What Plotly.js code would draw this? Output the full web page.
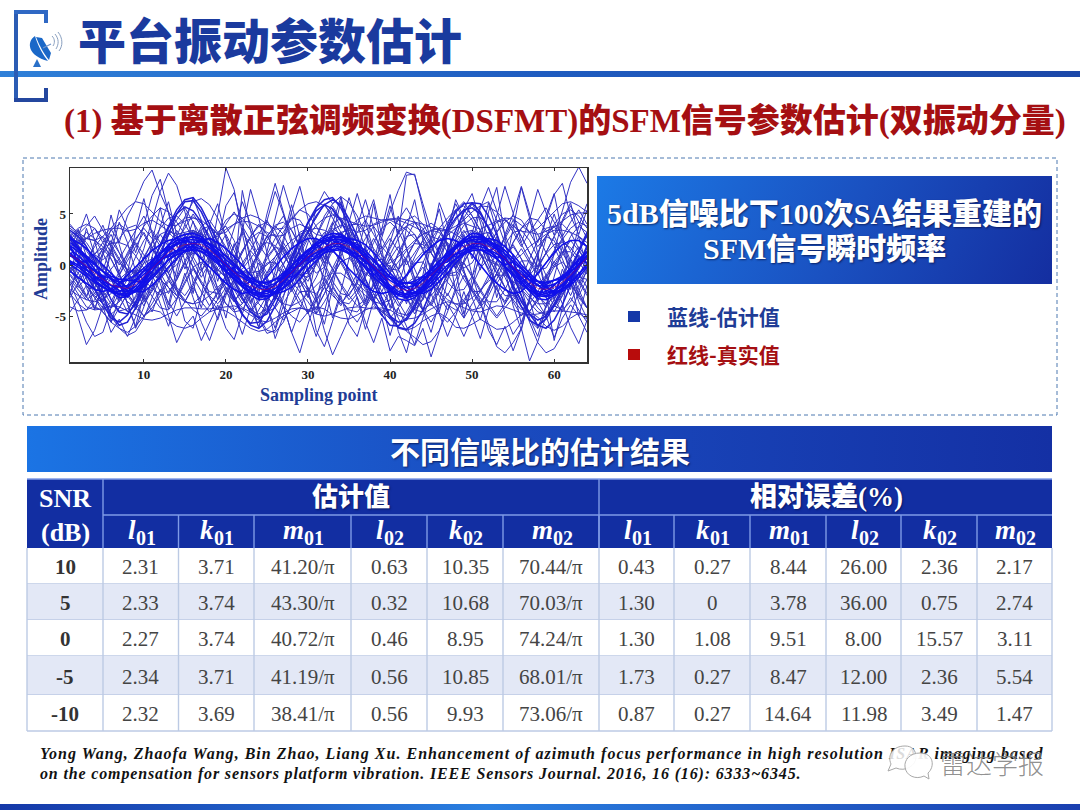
<!DOCTYPE html>
<html><head><meta charset="utf-8">
<script src="https://cdn.plot.ly/plotly-3.0.1.min.js"></script>
<style>
html,body{margin:0;padding:0;background:#fff;width:1080px;height:810px;overflow:hidden}
.g{position:absolute}
#chart{position:absolute;left:0;top:0;z-index:2}
#mark{position:absolute;left:0;top:0;z-index:3}
</style></head><body>
<div class="g" style="left:0;top:71px;width:1080px;height:6px;background:linear-gradient(90deg,#2f80d8,#1f5cc0 50%,#1c48a8)"></div>
<div class="g" style="left:597px;top:176px;width:455px;height:108px;background:linear-gradient(115deg,#1c7ae6,#1a50c0 55%,#142ea0)"></div>
<div class="g" style="left:27px;top:426px;width:1025px;height:46px;background:linear-gradient(90deg,#1b74e4,#1a4cc0 45%,#1430a4)"></div>
<div class="g" style="left:0;top:804px;width:1080px;height:6px;background:linear-gradient(90deg,#1538a8,#2a7fe0 45%,#1a3fb0)"></div>
<div id="chart"></div>
<svg id="mark" width="1080" height="810">
<path d="M905 746C893 746 887 755 891 764L888 771L896 768C905 772 916 766 916 757C916 750 912 746 905 746Z" fill="rgba(255,255,255,.85)" stroke="#a8a8a8" stroke-width="1"/>
<path d="M920 753C910 753 904 760 905 767C906 776 916 780 924 776L929 779L928 773C935 767 934 753 920 753Z" fill="rgba(255,255,255,.92)" stroke="#a8a8a8" stroke-width="1"/>
</svg>
<script>
const truth=[1.0,0.5,-0.1,-0.8,-1.4,-1.9,-2.2,-2.3,-1.9,-1.1,-0.3,0.5,1.2,1.7,2.0,2.1,2.0,1.5,0.8,0.0,-0.7,-1.4,-2.0,-2.4,-2.4,-2.1,-1.5,-0.7,0.1,0.8,1.4,1.8,2.1,2.1,1.8,1.3,0.6,-0.2,-1.0,-1.7,-2.3,-2.5,-2.3,-1.8,-1.0,-0.2,0.6,1.3,1.8,2.1,2.1,1.8,1.3,0.6,-0.2,-1.0,-1.7,-2.3,-2.4,-2.2,-1.7,-1.0,-0.1,0.7];
const c1=[1.6,0.9,0.2,-0.6,-1.3,-2.0,-2.5,-2.6,-2.1,-1.2,-0.2,0.7,1.5,2.0,2.4,2.5,2.3,1.7,0.9,0.0,-0.9,-1.7,-2.3,-2.7,-2.8,-2.3,-1.6,-0.7,0.2,1.0,1.7,2.2,2.5,2.5,2.1,1.5,0.7,-0.2,-1.2,-2.0,-2.6,-2.9,-2.7,-2.1,-1.2,-0.2,0.8,1.6,2.2,2.5,2.5,2.1,1.5,0.7,-0.3,-1.2,-2.0,-2.6,-2.8,-2.5,-1.9,-1.1,0.0,1.0];
const c2=[0.4,0.0,-0.5,-1.1,-1.6,-2.0,-2.1,-2.0,-1.6,-0.9,-0.2,0.4,1.0,1.4,1.7,1.8,1.6,1.2,0.6,-0.1,-0.7,-1.2,-1.7,-2.0,-2.1,-1.8,-1.3,-0.6,0.1,0.7,1.2,1.6,1.8,1.8,1.5,1.0,0.4,-0.3,-0.9,-1.5,-2.0,-2.2,-2.0,-1.5,-0.8,-0.1,0.5,1.1,1.5,1.8,1.8,1.5,1.1,0.5,-0.2,-0.9,-1.5,-2.0,-2.1,-1.9,-1.4,-0.7,0.1,0.6];
const c3=[2.2,1.6,0.9,0.1,-0.7,-1.4,-2.0,-2.5,-2.6,-2.1,-1.3,-0.4,0.5,1.2,1.8,2.2,2.3,2.1,1.6,0.9,0.1,-0.7,-1.5,-2.2,-2.6,-2.7,-2.3,-1.6,-0.7,0.2,0.9,1.6,2.1,2.4,2.3,2.0,1.4,0.6,-0.3,-1.2,-2.0,-2.5,-2.8,-2.6,-2.0,-1.2,-0.3,0.6,1.3,2.0,2.3,2.3,2.0,1.4,0.6,-0.3,-1.2,-2.0,-2.5,-2.7,-2.4,-1.8,-0.9,0.1];
const c4=[0.1,-0.5,-1.1,-1.7,-2.2,-2.6,-2.6,-2.2,-1.4,-0.5,0.3,1.1,1.7,2.1,2.3,2.2,1.7,1.0,0.2,-0.6,-1.4,-2.1,-2.6,-2.8,-2.5,-1.9,-1.0,-0.1,0.8,1.5,2.0,2.4,2.4,2.0,1.4,0.6,-0.3,-1.2,-1.9,-2.5,-2.9,-2.8,-2.3,-1.4,-0.5,0.4,1.2,1.8,2.3,2.4,2.1,1.5,0.7,-0.2,-1.1,-1.9,-2.5,-2.8,-2.6,-2.0,-1.2,-0.3,0.6,1.3];
const c5=[2.8,1.8,0.7,-0.4,-1.6,-2.6,-3.2,-3.1,-2.4,-1.4,-0.2,1.0,2.0,2.7,3.0,3.1,2.8,2.0,1.0,-0.1,-1.1,-2.1,-2.9,-3.4,-3.3,-2.7,-1.8,-0.7,0.5,1.4,2.2,2.8,3.1,3.0,2.5,1.7,0.7,-0.4,-1.5,-2.5,-3.3,-3.5,-3.2,-2.4,-1.4,-0.2,0.9,1.9,2.6,3.1,3.0,2.4,1.7,0.7,-0.5,-1.6,-2.6,-3.3,-3.4,-3.0,-2.2,-1.2,0.1,1.3];
const c6=[0.9,0.6,-0.2,-0.5,-1.1,-1.3,-1.7,-1.5,-1.5,-0.6,-0.3,0.6,0.8,1.4,1.4,1.7,1.3,1.2,0.4,0.2,-0.6,-0.9,-1.6,-1.6,-1.9,-1.4,-1.2,-0.3,-0.1,0.8,0.9,1.5,1.5,1.7,1.2,1.1,0.2,0.0,-0.9,-1.2,-1.9,-1.7,-1.9,-1.2,-1.0,0.1,0.3,1.1,1.2,1.7,1.5,1.4,0.8,0.6,-0.4,-0.6,-1.5,-1.6,-1.9,-1.5,-1.4,-0.5,-0.2,0.9];
const c7=[1.9,0.2,0.4,-1.4,-1.0,-2.6,-2.0,-3.1,-1.6,-1.7,0.2,0.1,1.9,1.3,2.7,1.9,2.6,1.1,1.3,-0.6,-0.2,-2.1,-1.6,-3.2,-2.2,-2.8,-0.9,-1.2,0.8,0.4,2.0,1.4,2.9,1.9,2.4,0.8,1.1,-1.0,-0.4,-2.4,-1.9,-3.3,-1.9,-2.5,-0.4,-0.8,1.3,0.8,2.5,1.7,2.8,1.3,1.9,0.0,0.3,-1.8,-1.0,-3.1,-2.0,-2.9,-1.0,-1.6,0.6,0.2];
const c8=[1.9,1.3,0.7,0.0,-0.6,-1.1,-1.4,-1.4,-1.0,-0.3,0.5,1.2,1.9,2.4,2.7,2.7,2.5,2.0,1.3,0.5,-0.1,-0.8,-1.3,-1.7,-1.7,-1.4,-0.8,-0.1,0.7,1.4,2.0,2.4,2.7,2.7,2.3,1.8,1.1,0.3,-0.4,-1.1,-1.6,-1.8,-1.6,-1.1,-0.4,0.4,1.2,1.9,2.4,2.7,2.7,2.3,1.8,1.1,0.3,-0.4,-1.1,-1.6,-1.7,-1.5,-1.1,-0.4,0.5,1.3];
const c9=[0.3,-0.2,-0.8,-1.5,-2.1,-2.6,-2.9,-3.0,-2.6,-1.8,-1.0,-0.2,0.5,1.0,1.3,1.5,1.3,0.8,0.1,-0.7,-1.4,-2.1,-2.7,-3.1,-3.1,-2.8,-2.2,-1.3,-0.6,0.2,0.7,1.2,1.4,1.5,1.1,0.6,-0.1,-0.9,-1.7,-2.4,-3.0,-3.2,-3.0,-2.5,-1.7,-0.9,0.0,0.6,1.1,1.4,1.5,1.1,0.6,-0.1,-0.9,-1.7,-2.4,-3.0,-3.1,-2.9,-2.4,-1.7,-0.8,0.0];
const k8=[1.2,0.4,-0.4,-1.2,-1.8,-2.4,-2.8,-2.8,-2.4,-1.6,-0.6,0.4,1.4,2.2,2.6,2.8,2.6,2.0,1.0,0.0,-1.0,-1.8,-2.6,-2.9,-3.0,-2.6,-1.8,-0.8,0.2,1.2,2.0,2.6,2.8,2.8,2.4,1.6,0.6,-0.4,-1.4,-2.2,-2.8,-3.1,-2.8,-2.2,-1.4,-0.4,0.6,1.6,2.4,2.8,2.8,2.4,1.6,0.6,-0.4,-1.4,-2.2,-2.8,-3.0,-2.6,-2.0,-1.2,-0.2,0.8];
const k9=[2.6,2.2,1.6,0.8,0.0,-0.8,-1.6,-2.2,-2.6,-2.6,-2.0,-1.2,-0.2,0.6,1.4,2.0,2.4,2.6,2.2,1.6,0.8,0.0,-1.0,-1.8,-2.4,-2.8,-2.6,-2.2,-1.4,-0.4,0.4,1.2,1.8,2.2,2.6,2.4,2.0,1.2,0.2,-0.8,-1.6,-2.2,-2.6,-2.8,-2.4,-1.6,-0.8,0.2,1.0,1.6,2.2,2.6,2.4,1.8,1.0,0.0,-0.8,-1.6,-2.2,-2.6,-2.6,-2.0,-1.2,-0.2];
const k10=[-0.6,-1.2,-1.8,-2.4,-2.6,-2.4,-1.8,-1.0,-0.2,0.6,1.4,2.0,2.4,2.6,2.2,1.4,0.6,-0.2,-1.0,-1.8,-2.4,-2.8,-2.6,-2.0,-1.2,-0.2,0.8,1.6,2.2,2.6,2.6,2.2,1.4,0.6,-0.4,-1.2,-2.0,-2.6,-2.8,-2.6,-1.8,-1.0,0.0,1.0,1.8,2.4,2.6,2.4,1.8,1.0,0.0,-1.0,-1.8,-2.4,-2.8,-2.6,-1.8,-0.8,0.2,1.2,2.0,2.4,2.4,1.8];
const b1=[2.5,1.5,0.3,-1.2,-3,-4.8,-5.9,-5.6,-4.2,-2.5,-0.8,1,3,5,6.2,6.3,5.2,3.5,1.5,-0.8,-3,-4.8,-5.9,-6.2,-5.5,-4,-2.2,-0.2,1.6,3.2,4.8,5.9,6.4,5.9,4.5,2.8,0.8,-1.2,-3.2,-5,-6.1,-6.3,-5.7,-4.4,-2.6,-0.6,1.4,3.4,5.2,6.1,6,4.8,3,1,-1.1,-3,-4.8,-5.9,-6.2,-5.4,-3.9,-2,0,1.9];
const b2=[3.0,1.9,0.6,-0.9,-2.5,-3.8,-4.5,-4.3,-3.2,-1.7,-0.2,1.4,2.9,3.9,4.6,4.7,4.1,2.9,1.4,-0.3,-2.0,-3.4,-4.4,-4.8,-4.3,-3.1,-1.7,-0.1,1.4,2.8,3.9,4.6,4.9,4.5,3.5,2.2,0.6,-1.0,-2.6,-3.9,-4.7,-4.9,-4.4,-3.4,-2.0,-0.4,1.1,2.6,3.9,4.6,4.7,3.8,2.4,0.9,-0.8,-2.4,-3.7,-4.6,-4.8,-4.1,-3.0,-1.5,0.1,1.6];
const b3=[1.0,0.2,-1.0,-2.4,-3.9,-5.2,-5.6,-4.9,-3.6,-1.7,0.2,1.9,3.6,5.0,5.7,5.3,4.2,2.6,0.6,-1.5,-3.4,-4.9,-5.7,-5.6,-4.5,-3.0,-1.1,0.8,2.5,4.1,5.3,5.9,5.5,4.3,2.7,0.8,-1.4,-3.4,-4.9,-5.9,-6.0,-5.2,-3.9,-2.0,0.0,1.9,3.7,5.2,6.0,6.1,5.2,3.6,1.7,-0.3,-2.3,-4.1,-5.4,-5.9,-5.3,-4.0,-2.5,-0.6,1.3,2.9];
const e1=[-0.6,-0.1,0.5,1.1,1.7,2.1,2.2,1.9,0.9,-0.3,-1.3,-0.6,0.5,1.4,2.0,2.0,1.4,0.5,-0.5,-1.2,-1.2,-0.4,0.7,1.7,2.2,1.9,0.9,-0.2,-1.0,-0.8,0.2,1.3,2.0,2.1,1.5,0.6,-0.4,-1.2,-1.4,-0.8,0.3,1.4,2.1,2.0,1.2,0.0,-0.9,-0.7,0.4,1.5,2.2,2.0,1.2,0.2,-0.8,-1.3,-1.0,0.0,1.1,2.0,2.2,1.7,0.7,-0.4];
const e2=[2.4,1.6,0.6,-0.4,-1.2,-1.6,-1.4,-0.7,-0.6,-1.4,-2.3,-2.9,-2.6,-1.5,0.2,1.6,2.3,2.0,0.9,-0.4,-1.5,-2.2,-2.1,-1.0,0.6,1.7,1.6,0.2,-1.4,-2.5,-2.8,-1.9,-0.3,1.3,2.2,2.2,1.2,-0.2,-1.5,-2.3,-2.1,-1.0,0.4,1.3,1.2,-0.2,-1.7,-2.5,-2.4,-1.1,0.6,1.9,2.2,1.5,0.2,-1.1,-2.0,-2.0,-1.0,0.3,1.3,1.3,0.3,-0.9];
const e3=[3.6,3.0,2.2,1.0,0.5,1.3,2.6,3.6,3.9,3.0,1.6,0.2,-0.6,0.0,1.2,2.6,3.5,3.8,3.1,1.8,0.4,-0.7,-0.2,1.2,2.8,3.9,4.2,3.4,1.8,0.2,-0.8,-0.2,1.4,2.9,3.9,4.0,3.1,1.6,0.5,-0.4,-0.5,0.6,2.2,3.5,4.1,3.5,2.1,0.6,-0.3,0.2,1.6,3.1,4.2,4.4,3.6,2.0,0.5,-0.5,-0.3,1.0,2.5,3.6,4.2,3.8];
const e4=[-0.9,-1.8,-3.1,-4.2,-4.4,-3.6,-2.0,-0.7,-0.5,-1.6,-3.1,-4.2,-4.4,-3.3,-1.6,-0.2,0.3,-0.6,-2.2,-3.8,-4.6,-4.4,-3.0,-1.2,0.2,0.3,-0.8,-2.4,-3.9,-4.6,-4.2,-2.8,-1.1,0.3,0.7,-0.4,-2.0,-3.6,-4.6,-4.4,-3.0,-1.2,0.2,0.3,-1.0,-2.6,-3.9,-4.4,-3.7,-2.0,-0.3,0.6,0.2,-1.2,-2.9,-4.1,-4.5,-3.5,-1.7,-0.2,0.3,-0.6,-2.4,-4.2];
const u1=[3.8,3.2,2.6,2.4,2.8,3.6,4.6,5.6,6.2,6.0,5.2,4.3,3.8,3.9,4.3,4.6,4.4,3.7,3.0,3.2,4.0,4.6,4.9,4.6,4.0,3.5,3.6,4.4,5.4,6.0,6.2,5.8,5.0,4.6,4.3,4.0,3.8,3.9,4.2,4.5,4.6,4.4,4.2,4.0,3.7,3.4,3.4,3.8,4.4,5.2,5.8,5.7,5.2,4.4,3.8,3.3,3.2,3.6,4.4,5.2,6.0,6.2,5.8,5.2];
const u2=[1.8,2.1,2.6,3.1,3.4,3.6,3.6,3.3,3.5,4.1,4.4,3.9,3.3,3.0,3.2,3.4,3.0,2.5,2.8,3.5,4.0,4.3,4.2,3.8,3.2,2.8,2.9,3.6,4.0,3.6,3.0,2.8,3.4,3.9,3.6,3.2,3.4,4.0,4.4,4.5,4.4,4.1,3.7,3.3,2.8,2.5,2.9,3.6,4.1,3.8,3.5,3.9,4.3,4.6,4.5,3.9,3.2,3.0,3.3,3.7,4.3,4.9,5.1,5.1];
const l1=[-4.1,-4.5,-4.4,-4.0,-4.6,-5.6,-6.2,-6.6,-6.0,-5.0,-4.4,-4.6,-5.4,-6.0,-6.2,-5.9,-5.2,-4.6,-4.3,-4.5,-5.0,-5.6,-6.2,-6.5,-6.3,-5.6,-5.0,-4.6,-4.2,-4.4,-4.1,-4.3,-4.9,-5.2,-5.3,-4.9,-4.4,-4.1,-4.4,-5.3,-6.2,-6.4,-6.1,-5.5,-5.0,-4.7,-5.2,-6.1,-6.2,-5.8,-5.3,-5.8,-6.3,-6.2,-5.6,-4.9,-4.6,-5.1,-6.0,-6.4,-6.0,-5.2,-4.7,-4.9];
const l2=[-1.6,-2.9,-4.1,-4.4,-4.3,-4.0,-4.1,-4.5,-4.9,-5.3,-5.4,-5.2,-4.8,-4.4,-4.2,-4.2,-4.3,-4.3,-4.2,-4.1,-4.0,-4.3,-4.9,-5.4,-5.6,-5.2,-4.7,-4.3,-4.2,-4.4,-4.8,-5.0,-4.8,-4.5,-4.2,-4.1,-4.2,-4.3,-4.2,-4.4,-4.9,-5.3,-5.2,-4.8,-4.3,-3.9,-3.6,-3.8,-4.2,-4.5,-4.6,-4.3,-4.0,-4.1,-4.4,-4.7,-4.9,-4.8,-4.6,-4.5,-4.5,-4.6,-4.7,-5.3];
const n1=[0.5,-2,-3.2,-1,1.2,3.5,2.2,4.8,6.3,8.2,9.3,7.0,5.2,2.1,-0.4,1.6,3.2,0.5,4.9,9.5,7.4,3.1,-0.8,1.0,4.3,7.2,5.0,2.0,-1.4,-3.2,0.6,2.8,5.5,3.6,6.6,4.1,1.5,-0.6,2.7,5.2,7.3,9.1,8.8,6.0,3.4,1.1,3.9,6.0,4.3,1.9,-0.5,2.4,4.8,7.7,5.1,2.2,4.4,7.4,5.2,2.9,5.3,8.1,9.6,8.0];
const n2=[-2.5,-5.2,-7.8,-6.4,-4.0,-6.6,-5.3,-7.0,-5.1,-3.0,-4.6,-2.4,-4.9,-7.6,-6.0,-5.0,-7.4,-5.6,-3.9,-6.2,-7.3,-4.8,-2.1,-5.3,-6.7,-6.4,-4.0,-6.6,-8.6,-5.8,-3.4,-6.4,-8.8,-7.0,-5.2,-3.1,-5.6,-7.6,-5.2,-8.4,-7.0,-7.4,-7.9,-6.2,-9.0,-6.5,-3.8,-5.2,-7.0,-5.1,-3.7,-5.8,-8.0,-8.6,-7.6,-6.2,-9.4,-7.5,-5.0,-7.1,-5.2,-3.9,-5.0,-6.6];
const n3=[1.4,3.5,0.8,-2.4,1.0,4.9,2.0,-0.8,3.4,6.5,3.1,-1.2,-3.9,-0.4,2.6,-1.8,-4.2,-1.1,2.3,5.8,7.1,4.0,0.4,-2.9,1.3,4.5,7.8,5.1,0.9,-2.6,-4.8,-1.4,2.8,6.2,3.0,-0.6,-3.6,0.2,3.7,6.9,2.5,-1.6,-4.4,-1.0,2.9,5.5,1.8,-2.6,-5.2,-1.2,2.6,6.1,3.3,-0.4,-4.0,-6.4,-3.1,0.7,4.8,7.0,3.0,-1.5,-5.0,-2.0];
const n4=[-3.0,0.2,3.6,1.0,-2.6,-5.6,-3.2,-0.4,-4.4,-1.6,2.3,5.6,1.9,-2.3,-5.5,-6.2,-3.0,0.8,-2.5,-5.2,-1.2,7.3,3.4,-0.5,-3.8,-7.2,-5.0,-1.2,3.0,-0.4,-3.4,-0.3,4.1,6.6,2.0,-1.9,1.4,6.0,1.6,-2.8,-6.5,-8.6,-5.3,-1.9,2.2,6.1,4.0,-0.6,-4.8,-2.2,1.6,5.2,7.6,2.9,-2.0,-5.8,-3.4,0.9,-2.8,-7.4,-4.2,0.6,3.8,6.0];
const n5=[3.0,2.0,0.4,-1.5,-3.4,-5.0,-6.2,-6.9,-6.5,-5.2,-3.2,-1.1,0.8,2.8,4.7,6.2,6.5,5.9,4.6,2.8,0.8,-1.2,-3.2,-5.1,-6.4,-6.6,-5.6,-3.8,-1.7,0.6,2.8,4.8,6.0,6.7,6.1,4.8,3.0,1.0,-1.1,-3.3,-5.2,-6.5,-7.1,-7.8,-7.5,-6.4,-4.6,-2.2,0.4,3.2,5.8,6.2,4.4,2.1,-0.4,-3.0,-5.6,-7.6,-8.6,-8.2,-6.8,-4.8,-2.6,-0.4];
const n6=[-0.8,1.9,-1.2,-4.3,-2.1,1.3,4.2,2.2,-0.6,-3.4,0.8,3.8,6.2,3.0,0.4,-2.8,1.4,4.0,6.0,2.6,-0.2,3.3,7.4,4.6,1.2,-1.6,2.2,5.2,7.7,4.6,1.3,-1.9,-5.2,-2.6,0.6,3.8,6.4,3.6,0.8,-3.3,-0.6,3.6,6.4,2.4,-0.8,-4.6,-1.6,2.4,5.5,7.0,4.2,0.9,-3.2,-0.4,3.6,7.6,4.6,1.0,-2.4,1.2,4.4,6.1,2.7,-0.2];
const n7=[2.9,0.6,-2.2,-4.4,-1.8,1.6,-0.9,-3.8,-6.0,-2.9,0.4,-1.8,-4.3,-1.1,2.0,4.3,1.6,-1.0,-3.4,-0.8,2.1,-0.9,-3.6,-6.1,-3.2,-0.6,2.6,5.9,2.8,-0.7,-3.2,-5.8,-2.2,1.6,-1.0,-3.2,-6.3,-3.4,-0.7,2.2,4.8,1.6,-1.4,-4.4,-6.6,-3.6,-0.4,2.2,-0.6,-3.2,-5.4,-2.6,0.4,3.0,0.8,-2.2,-5.2,-7.0,-4.0,-1.0,1.8,-1.0,-3.6,-5.2];
const n8=[0.8,3.0,5.0,2.4,-0.6,2.0,5.4,3.6,1.2,3.9,6.8,8.4,5.0,1.8,4.0,6.6,4.4,1.2,-1.6,1.0,3.6,6.2,4.0,1.4,5.0,8.0,5.2,2.4,-0.2,2.2,5.6,7.2,6.0,6.7,3.8,1.0,4.2,6.4,2.9,5.8,3.0,8.8,8.9,5.6,2.2,-0.4,3.2,6.4,4.6,2.0,5.6,7.6,5.2,3.0,5.0,7.7,5.0,2.2,4.4,6.9,8.0,4.8,3.0,5.4];
const n9=[-1.8,-3.6,-5.6,-7.0,-6.6,-4.2,-1.8,-3.8,-6.2,-4.1,-1.6,-3.8,-6.0,-3.4,-0.8,-3.2,-5.6,-7.4,-5.1,-2.4,-4.4,-6.8,-4.2,-6.1,-3.8,-1.6,-4.0,-6.6,-4.4,-2.2,-6.4,-8.0,-5.5,-3.0,-5.8,-7.0,-4.3,-1.6,-3.8,-6.9,-4.2,-6.0,-7.8,-5.2,-2.8,-4.8,-7.0,-5.0,-2.6,-5.0,-7.2,-4.4,-2.0,-4.8,-6.8,-5.6,-3.4,-6.2,-4.0,-1.8,-3.8,-6.1,-7.7,-5.4];
const n10=[-0.4,-1.8,-0.2,2.2,3.9,1.8,-0.8,-2.8,-0.6,1.6,4.4,7.2,9.0,7.8,5.2,2.4,-0.4,-3.0,-5.4,-3.0,0.4,3.6,1.0,-1.6,-4.0,-6.2,-3.2,0.2,-2.2,-4.8,-7.0,-4.6,-1.4,1.4,4.2,7.0,4.2,1.4,-1.6,-4.2,-2.0,0.6,-1.8,-4.6,-2.2,0.6,3.0,5.4,2.2,-1.0,-3.6,-6.4,-7.8,-6.0,-8.4,-6.2,-3.4,-0.4,2.6,5.0,2.6,-0.2,-3.0,-1.4];
const m1=[2.6,1.2,-0.4,-1.8,-3.0,-2.4,-1.0,0.8,2.2,1.0,-1.0,-2.6,-1.4,0.6,2.6,3.4,2.8,1.0,-0.8,-2.6,-3.6,-2.4,-0.6,1.4,2.8,3.0,1.4,-0.6,-2.2,-1.0,1.0,2.8,3.6,3.0,1.6,0.0,-1.8,-3.2,-2.6,-0.8,1.2,2.8,3.0,1.6,-0.4,-2.4,-1.4,0.6,2.4,3.4,3.0,1.4,-0.4,-2.2,-3.4,-2.6,-0.8,1.2,2.8,2.4,0.6,-1.4,-0.4,1.8];
const m2=[-1.4,-2.4,-3.4,-2.8,-1.6,-0.4,0.6,-0.6,-2.0,-3.6,-2.6,-1.0,0.8,2.2,1.4,-0.2,-1.8,-3.0,-3.8,-2.8,-1.4,0.2,1.4,0.4,-1.2,-2.8,-3.8,-2.4,-0.6,1.2,2.4,1.2,-0.4,-2.0,-3.4,-2.4,-1.0,0.6,1.8,0.8,-1.0,-2.6,-3.8,-3.0,-1.2,0.8,2.2,1.2,-0.6,-2.4,-3.6,-2.6,-0.8,0.8,1.8,0.6,-1.2,-3.0,-3.8,-2.6,-1.0,0.6,1.8,0.6];
const m3=[0.8,2.2,3.2,2.6,1.2,-0.6,-2.2,-1.0,0.8,2.4,3.4,2.2,0.6,-1.2,0.4,2.0,3.8,4.4,3.2,1.4,-0.4,-1.8,-0.4,1.2,2.8,3.8,3.0,1.2,-0.6,-1.6,0.2,2.2,4.0,4.6,3.2,1.4,-0.4,-1.4,0.2,1.8,3.2,3.8,3.0,1.4,-0.2,1.2,3.0,4.4,5.4,4.4,2.6,0.8,-0.8,0.6,2.2,3.6,4.2,3.0,1.2,-0.2,1.0,2.8,3.8,3.2];
const m4=[3.2,2.4,1.6,0.6,-0.2,-1.2,-2.6,-3.6,-4.2,-3.6,-2.2,-0.8,0.2,1.4,2.0,3.0,1.8,0.4,-1.0,-2.2,-3.2,-4.2,-4.6,-3.6,-2.4,-1.0,0.2,1.0,2.2,3.2,2.2,0.8,-0.4,-1.8,-3.0,-4.0,-3.4,-2.0,-0.8,0.6,-0.4,-2.0,-3.4,-4.4,-3.8,-2.4,-1.0,0.4,1.6,2.8,2.0,0.6,-0.8,-2.2,-3.4,-4.4,-3.8,-2.6,-1.2,0.0,1.2,2.4,1.4,0.2];
const m5=[-2.0,-0.8,0.4,1.8,2.8,1.8,0.4,-1.0,-2.4,-1.4,0.2,1.8,3.2,2.4,3.6,5.0,3.8,2.0,0.4,-1.2,-0.2,1.4,2.8,4.0,3.0,1.4,0.0,-1.6,-0.6,1.0,2.8,4.4,5.8,4.4,2.6,1.2,2.6,3.8,2.6,1.0,-0.4,0.8,2.2,3.2,1.8,0.2,1.4,3.0,4.6,6.0,4.6,2.8,1.2,2.6,4.0,2.8,1.2,-0.2,1.2,2.8,4.2,5.8,4.2,2.6];
const m6=[-3.2,-1.8,-0.4,-1.8,-3.0,-4.2,-2.8,-1.4,-2.6,-4.0,-2.4,-0.8,-2.2,-3.4,-1.8,-0.4,-1.8,-3.2,-4.4,-2.8,-1.4,-2.8,-4.2,-5.2,-3.6,-2.0,-0.6,-2.0,-3.4,-4.8,-3.0,-1.4,-2.8,-4.0,-2.4,-0.8,-2.4,-3.8,-5.0,-3.4,-1.8,-3.2,-4.8,-3.2,-1.6,-3.0,-4.4,-2.6,-1.0,-2.6,-4.0,-2.2,-0.8,-2.2,-3.6,-5.0,-3.4,-1.8,-3.2,-4.6,-3.0,-1.4,-2.8,-4.2];
const m7=[1.2,0.2,-1.0,-0.2,1.0,2.4,1.2,0.0,-1.2,0.2,1.6,3.0,1.8,0.6,2.0,3.4,2.2,0.8,-0.6,0.6,1.8,3.2,2.0,0.6,-0.8,0.4,1.8,0.6,-0.8,0.6,2.0,3.2,2.0,3.2,1.8,0.4,-1.0,0.2,1.4,2.6,1.4,0.0,1.2,2.4,1.2,-0.2,1.0,2.2,3.4,2.2,3.4,2.0,0.6,-0.8,0.4,1.6,0.2,-1.0,0.2,1.4,2.6,1.4,2.8,1.8];
const m8=[-0.4,0.8,-0.8,-2.2,-3.6,-2.2,-3.6,-2.0,-0.8,-2.2,-0.8,0.6,-0.8,0.6,2.0,0.8,-0.6,0.6,-0.8,-2.2,-3.6,-2.4,-3.8,-2.2,-1.0,0.2,-1.2,-2.6,-1.2,0.2,1.6,0.2,1.6,0.2,-1.2,-2.6,-1.4,-2.8,-4.0,-2.6,-4.0,-2.8,-1.4,-0.2,-1.6,-0.2,1.2,-0.2,1.2,2.4,1.0,-0.4,-1.8,-0.6,-2.0,-3.4,-4.6,-3.2,-1.8,-3.0,-1.6,-0.4,-1.8,-0.2];
const m9=[2.0,2.4,2.6,2.4,1.8,1.0,0.2,-0.4,-0.8,-0.6,0.0,0.8,1.6,2.4,3.0,3.2,3.0,2.4,1.6,0.8,0.0,-0.6,-0.8,-0.6,0.0,0.8,1.6,2.4,3.0,3.4,3.6,3.4,3.0,2.4,1.6,0.8,0.2,-0.2,-0.2,0.2,0.8,1.6,2.4,3.0,3.4,3.6,3.4,3.0,2.4,1.8,1.0,0.4,0.0,0.0,0.4,1.0,1.8,2.4,3.0,3.4,3.4,3.2,2.8,2.2];
const m10=[-2.4,-3.0,-3.4,-3.6,-3.4,-2.8,-2.0,-1.2,-0.6,-0.4,-0.8,-1.4,-2.2,-3.0,-3.6,-3.8,-3.6,-3.0,-2.2,-1.4,-0.8,-0.6,-1.0,-1.6,-2.4,-3.2,-3.8,-4.0,-3.6,-2.8,-2.0,-1.2,-0.8,-0.8,-1.4,-2.2,-3.0,-3.6,-3.8,-3.4,-2.6,-1.8,-1.2,-1.2,-1.8,-2.6,-3.4,-3.8,-3.8,-3.2,-2.4,-1.6,-1.0,-1.0,-1.6,-2.4,-3.2,-3.8,-3.8,-3.2,-2.4,-1.6,-1.2,-1.4];
const m11=[3.4,2.6,1.4,0.2,-1.2,-2.4,-3.0,-2.4,-0.8,0.8,2.2,3.0,3.4,2.8,1.4,-0.2,-1.6,-2.6,-2.8,-1.8,-0.2,1.4,2.6,3.2,2.8,1.6,0.0,-1.6,-2.6,-2.6,-1.2,0.6,2.2,3.2,3.4,2.6,1.0,-0.6,-2.0,-2.8,-2.4,-1.0,0.8,2.4,3.4,3.2,2.0,0.2,-1.4,-2.6,-2.6,-1.4,0.4,2.0,3.2,3.4,2.4,0.8,-1.0,-2.4,-2.8,-1.8,0.0,1.8];
const m12=[1.8,0.4,-1.4,-2.8,-3.4,-2.4,-0.6,1.2,2.6,3.6,2.6,0.8,-0.8,-2.2,-3.0,-1.8,0.0,2.0,3.2,3.8,2.4,0.4,-1.6,-3.0,-3.4,-2.0,0.0,1.8,3.2,3.6,2.2,0.2,-1.6,-2.8,-3.0,-1.6,0.4,2.2,3.6,4.2,3.4,1.6,-0.4,-2.2,-3.0,-2.0,-0.2,1.8,3.2,3.4,2.0,0.0,-1.8,-3.0,-3.0,-1.4,0.6,2.4,3.6,3.8,2.4,0.4,-1.4,-2.8];
const m13=[-0.6,-1.4,0.2,-1.8,-2.8,-1.2,-3.4,-2.0,-0.6,-2.6,0.8,-1.0,2.0,0.4,3.0,1.0,3.4,0.8,2.4,-0.8,1.0,-2.2,-0.6,-3.4,-1.4,-3.4,-0.4,-2.2,1.2,-0.8,2.6,0.6,3.4,0.8,3.2,0.2,1.8,-1.6,0.2,-3.0,-1.2,-3.8,-1.4,-3.4,0.2,-1.8,1.6,-0.4,3.0,0.6,3.4,0.4,2.8,-1.0,1.0,-2.4,-0.4,-3.6,-1.0,-3.4,-0.4,-2.4,1.0,-0.6];
const m14=[2.4,3.4,1.8,0.0,1.6,3.0,1.2,-0.6,-2.4,-3.4,-1.6,0.4,-1.4,-3.0,-1.2,0.8,2.6,3.8,2.2,0.4,-1.4,-3.0,-1.4,0.2,-1.6,-3.2,-1.4,0.4,2.2,3.8,2.0,0.2,1.8,3.2,1.4,-0.4,-2.2,-3.6,-1.8,0.0,-1.8,-3.4,-1.6,0.2,2.0,3.6,1.8,0.0,1.6,3.0,1.2,-0.6,-2.4,-3.6,-1.8,0.0,-1.6,-3.2,-1.4,0.4,-1.4,-3.0,-1.2,0.8];
const k1=[1.0,0.4,0.2,1.0,2.2,3.4,4.0,3.4,2.0,0.4,-1.0,-1.4,-0.4,1.0,2.2,3.0,2.6,1.2,-0.4,-1.2,-0.4,1.2,2.8,3.8,4.2,3.4,1.8,0.2,-1.0,-1.2,0.0,1.6,2.8,3.2,2.4,0.8,-0.8,-1.4,-0.6,1.0,2.6,3.8,4.2,3.6,2.0,0.2,-1.0,-1.0,0.2,1.8,3.0,3.2,2.2,0.6,-1.0,-1.4,-0.4,1.2,2.8,3.8,4.0,3.2,1.6,0.0];
const k2=[-0.2,-1.2,-2.0,-3.0,-3.8,-4.2,-3.6,-2.4,-1.0,0.2,0.6,0.0,-1.2,-2.6,-3.6,-3.8,-3.0,-1.6,-0.2,0.6,0.4,-0.8,-2.4,-3.8,-4.6,-4.2,-3.0,-1.4,0.0,0.6,0.2,-1.2,-2.6,-3.6,-3.8,-2.8,-1.2,0.2,0.6,-0.2,-1.6,-3.2,-4.4,-4.6,-3.6,-2.0,-0.4,0.4,0.2,-1.0,-2.4,-3.6,-3.6,-2.4,-0.8,0.4,0.4,-0.8,-2.6,-4.0,-4.4,-3.6,-2.0,-0.6];
const k3=[3.4,2.8,1.8,0.4,-1.6,-3.4,-4.6,-4.8,-3.8,-2.0,0.0,2.0,3.8,5.4,6.4,6.6,5.6,4.0,2.2,0.2,-1.6,-3.2,-4.6,-5.2,-4.8,-3.4,-1.6,0.4,2.4,4.2,5.6,6.4,6.6,5.6,4.0,2.2,0.2,-1.8,-3.6,-5.0,-5.6,-5.4,-4.2,-2.4,-0.4,1.6,3.4,4.6,5.4,5.6,5.0,3.6,1.8,-0.2,-2.0,-3.6,-4.8,-5.4,-5.0,-3.8,-2.2,-0.4,1.4,3.2];
const k4=[0.2,-0.8,-2.0,-3.2,-4.2,-4.8,-4.2,-2.8,-1.2,0.6,2.2,3.6,4.6,4.8,4.0,2.6,0.8,-1.0,-2.6,-3.8,-4.4,-3.8,-2.4,-0.8,1.0,2.6,3.8,4.6,4.4,3.2,1.6,-0.2,-2.0,-3.4,-4.4,-4.6,-3.6,-2.0,-0.2,1.6,3.2,4.4,4.8,4.0,2.6,1.0,-0.8,-2.4,-3.6,-4.4,-4.2,-3.0,-1.4,0.4,2.2,3.6,4.6,4.4,3.4,1.8,0.0,-1.8,-3.2,-4.2];
const k5=[-1.0,-2.2,-1.2,0.4,1.6,0.6,-1.0,-2.8,-4.0,-2.6,-1.0,0.4,-0.8,-2.4,-3.6,-2.0,-0.6,1.0,2.4,1.0,-0.6,-2.0,-3.6,-2.4,-0.8,0.8,2.2,0.8,-0.8,-2.2,-3.6,-2.2,-0.6,0.8,-0.6,-2.2,-3.8,-2.4,-1.0,0.6,1.8,0.4,-1.2,-2.8,-4.0,-2.6,-1.0,0.6,-0.8,-2.4,-3.8,-2.4,-0.8,0.8,2.0,0.6,-1.0,-2.8,-4.2,-2.8,-1.2,0.6,-0.8,-2.2];
const k6=[4.0,3.0,3.8,4.8,3.4,2.0,0.6,2.0,3.4,4.8,3.2,1.8,3.2,4.4,5.6,4.2,2.8,1.2,2.6,4.0,5.2,3.8,2.4,1.0,2.4,3.6,4.8,3.4,2.0,3.4,4.6,6.0,4.6,3.2,1.8,3.2,4.4,3.0,1.6,3.0,4.4,5.6,4.2,2.8,1.4,2.8,4.2,5.4,6.2,4.8,3.4,1.8,3.2,4.6,3.2,1.8,3.2,4.4,5.6,4.2,2.8,4.2,5.4,4.0];
const k7=[-4.6,-3.4,-2.0,-3.2,-4.6,-5.6,-4.2,-2.8,-3.8,-5.0,-3.8,-2.4,-3.6,-5.0,-3.6,-2.2,-3.6,-4.6,-3.4,-2.2,-3.4,-4.8,-5.8,-4.4,-3.0,-4.2,-5.4,-4.0,-2.6,-3.6,-4.8,-3.6,-2.2,-3.4,-4.6,-5.6,-4.2,-2.8,-4.0,-5.2,-6.0,-4.6,-3.2,-4.4,-5.6,-4.2,-2.8,-4.0,-5.2,-3.8,-2.6,-3.8,-5.0,-3.8,-2.6,-4.0,-5.4,-6.2,-4.8,-3.4,-4.6,-3.2,-4.4,-5.6];
const k11=[2.8,3.6,4.0,3.6,2.6,1.2,0.0,1.0,2.4,3.8,4.8,5.6,5.2,4.2,3.0,1.8,0.6,1.6,3.0,4.4,5.0,4.6,3.4,2.0,0.8,1.8,3.2,4.6,5.4,5.0,3.8,2.4,1.2,2.2,3.6,4.4,4.8,4.6,4.4,4.4,4.0,3.4,2.6,1.6,2.6,3.6,4.6,5.4,5.8,4.8,3.4,2.0,3.2,4.2,4.8,4.4,3.2,1.8,2.8,4.0,5.0,5.4,4.8,3.6];
const k12=[-2.8,-3.8,-4.4,-3.4,-2.0,-0.8,-1.8,-3.0,-4.2,-5.0,-4.2,-3.0,-1.6,-2.4,-3.4,-4.4,-5.0,-4.0,-2.8,-1.4,-2.2,-3.4,-4.4,-3.4,-2.2,-3.0,-4.0,-5.0,-5.6,-4.6,-3.4,-2.2,-3.0,-3.8,-2.8,-1.8,-2.6,-3.6,-4.6,-5.2,-4.2,-3.0,-1.8,-2.8,-3.8,-4.8,-5.6,-4.6,-3.4,-2.2,-3.2,-4.2,-5.2,-4.2,-3.2,-2.0,-3.0,-4.2,-5.0,-4.0,-2.8,-1.8,-3.0,-4.2];
const k13=[3.0,1.4,2.6,3.6,2.2,0.6,-1.0,0.4,1.8,3.2,1.8,0.2,1.8,3.4,2.0,0.4,-1.2,0.2,1.6,3.0,1.4,-0.2,1.4,3.0,4.4,2.8,1.2,-0.4,1.0,2.6,1.0,2.6,4.2,2.6,1.0,-0.6,1.0,2.6,1.0,-0.6,1.0,2.6,4.2,2.8,1.2,2.8,1.2,-0.4,1.0,2.8,1.2,-0.4,1.2,2.8,4.4,2.8,1.2,-0.4,1.2,2.8,1.2,-0.2,1.4,3.0];
const k14=[0.4,-1.4,-3.0,-1.6,0.0,-1.4,-3.0,-4.6,-3.0,-1.4,0.2,-1.2,-2.8,-1.4,0.2,-1.2,-2.6,-4.0,-2.6,-1.0,-2.4,-3.8,-2.2,-0.6,-2.0,-3.4,-1.8,-0.2,-1.6,-3.0,-4.4,-2.8,-1.2,0.4,-1.0,-2.6,-4.0,-2.4,-0.8,-2.2,-3.6,-5.0,-3.4,-1.8,-0.2,-1.6,-3.0,-1.4,0.2,-1.2,-2.6,-1.0,-2.4,-3.8,-2.2,-0.6,-2.0,-3.6,-5.0,-3.4,-1.8,-0.2,-1.6,-3.0];
const coreRuns=[c1,c2,c3,c4,c5,c6,c7,c8,c9,k8,k9,k10];
const boldRuns=[b1,b3,k3];
const wideRuns=[b2,e1,e2,e3,e4,u1,u2,l1,l2,n1,n2,n3,n4,n5,n6,n7,n8,n9,n10,m1,m2,m3,m4,m5,m6,m7,m8,m9,m10,m11,m12,m13,m14,k1,k2,k4,k5,k6,k7,k11,k12,k13,k14];
const samples=truth.map((_,i)=>i+1);

const snrLabels=['10','5','0','-5','-10'];
const headLetters=['l','k','m','l','k','m'];
const headSubs=['01','01','01','02','02','02'];
const estimates=[
 ['2.31','3.71','41.20/π','0.63','10.35','70.44/π'],
 ['2.33','3.74','43.30/π','0.32','10.68','70.03/π'],
 ['2.27','3.74','40.72/π','0.46','8.95','74.24/π'],
 ['2.34','3.71','41.19/π','0.56','10.85','68.01/π'],
 ['2.32','3.69','38.41/π','0.56','9.93','73.06/π']];
const errors=[
 ['0.43','0.27','8.44','26.00','2.36','2.17'],
 ['1.30','0','3.78','36.00','0.75','2.74'],
 ['1.30','1.08','9.51','8.00','15.57','3.11'],
 ['1.73','0.27','8.47','12.00','2.36','5.54'],
 ['0.87','0.27','14.64','11.98','3.49','1.47']];

const W=1080,H=810;
const colEdges=[27,103,178.5,254,351,427,503,599,674,750,826,901,977,1052];
const rowEdges=[548,584,620,656,695,731];
const fx=v=>v/W, fy=v=>1-v/H;
const SERIF='"Liberation Serif","Noto Sans CJK SC",serif';
const SANS='"Noto Sans CJK SC",sans-serif';
const NAVY='#1f3c96', RED='#a50f12';
const ann=[], shp=[];
function T(text,x,y,size,color,o={}){
 ann.push({text,x:fx(x),y:fy(y),xref:'paper',yref:'paper',showarrow:false,
  xanchor:o.a||'center',yanchor:'middle',textangle:o.r||0,
  font:Object.assign({family:o.f||SERIF,size,color},o.w?{weight:o.w}:{},o.s?{shadow:o.s}:{},o.st?{style:o.st}:{})});
}
function R(x0,y0,x1,y1,fill,line,lw){
 shp.push({type:'rect',xref:'paper',yref:'paper',x0:fx(x0),x1:fx(x1),y0:fy(y0),y1:fy(y1),
  fillcolor:fill||'rgba(0,0,0,0)',line:{color:line||'rgba(0,0,0,0)',width:lw||0},layer:'below'});
}
function L(x0,y0,x1,y1,color,w){
 shp.push({type:'line',xref:'paper',yref:'paper',x0:fx(x0),x1:fx(x1),y0:fy(y0),y1:fy(y1),line:{color,width:w},layer:'below'});
}
function P(d,fill,line,lw){
 let isX=true;
 const path=d.replace(/-?\d+(\.\d+)?/g,m=>{const r=isX?fx(+m):fy(+m);isX=!isX;return r.toFixed(5);});
 shp.push({type:'path',path,xref:'paper',yref:'paper',fillcolor:fill||'rgba(0,0,0,0)',line:{color:line||'rgba(0,0,0,0)',width:lw||0},layer:'above'});
}

// header bracket and icon
R(14,11,18,102,'#2b5cb4');R(14,10,48,14,'#2f68c4');R(44,10,48,23,'#2f68c4');R(14,98,48,102,'#24479f');R(44,88,48,102,'#24479f');
P('M 35 36 C 26 42 28 56 48 61 C 43 55 38 46 35 36 Z','#1a68c8');
P('M 36 37 C 40 47 44 54 49 60 L 51 53 L 42 38 Z','#1a68c8');
P('M 33 67 L 37 59 L 41 67 Z','#2a70c8');
P('M 43 48 L 51 44','','#6f93c8',1.2);
P('M 52 36 C 55 39 55 43 53 46','','#8aa0c0',1);
P('M 55 34 C 59 39 59 44 56 49','','#8aa0c0',1);
P('M 58 32 C 63 38 63 46 59 51','','#8aa0c0',1);
T('平台振动参数估计',270,38,48,'#1a3a9e',{f:SANS,w:900});
T('(1) 基于离散正弦调频变换(DSFMT)的SFM信号参数估计(双振动分量)',565,121,33,RED,{w:900});

// dashed frame
R(23,158,1057,415,null,'#4d78b0',1);shp[shp.length-1].line.dash='4px,3px';

// side panel
const SH='1px 1px 2px rgba(0,0,40,.6)';
T('5dB信噪比下100次SA结果重建的',824,214,30,'#ffffff',{w:900,s:SH});
T('SFM信号瞬时频率',824,249,30,'#ffffff',{w:900,s:SH});
R(628,311,640,322,'#1538a8');R(628,349,640,360,'#b80c0c');
T('蓝线-估计值',665,316,21,NAVY,{a:'left',f:SANS,w:700});
T('红线-真实值',665,354,21,RED,{a:'left',f:SANS,w:700});

// table
T('不同信噪比的估计结果',540,450,30,'#ffffff',{f:SANS,w:700,s:SH});
const gridHead='#7f9be6', gridBody='#bccae4';
R(27,479,1052,548,'#122ea2');
L(103,479,103,548,gridHead,1.4);
L(103,515,1052,515,gridHead,1.4);
L(599,479,599,548,gridHead,1.4);
for(let c=2;c<colEdges.length-1;c++) L(colEdges[c],515,colEdges[c],548,gridHead,1.4);
L(27,479,1052,479,gridHead,1.4);
T('SNR',65,498,26,'#ffffff',{w:700});T('(dB)',65,532,26,'#ffffff',{w:700});
T('估计值',351,497,26,'#ffffff',{w:900,s:'1px 1px 2px rgba(0,0,40,.5)'});
T('相对误差(%)',826,497,27,'#ffffff',{w:900,s:'1px 1px 2px rgba(0,0,40,.5)'});
const joinOffset={l:-3,k:0,m:3.5};
[...headLetters,...headLetters].forEach((h,i)=>{
 const c=(colEdges[i+1]+colEdges[i+2])/2, j=c+joinOffset[h];
 T(h,j,530,27,'#ffffff',{a:'right',w:700,st:'italic'});
 T(headSubs[i%6],j-4,538,20,'#ffffff',{a:'left',w:700});
});
snrLabels.forEach((s,r)=>{
 const y0=rowEdges[r],y1=rowEdges[r+1],cy=(y0+y1)/2+1;
 R(27,y0,1052,y1,r%2?'#e3e8f6':'#ffffff');
 T(s,65,cy,21,'#333333',{w:700});
 [...estimates[r],...errors[r]].forEach((v,i)=>T(v,(colEdges[i+1]+colEdges[i+2])/2,cy,21,'#444444'));
 L(27,y1,1052,y1,gridBody,1.4);
});
colEdges.forEach(x=>L(x,548,x,731,gridBody,1.4));

// axis titles
T('Amplitude',41,259,18,NAVY,{r:-90,w:700});
T('Sampling point',319,395,18,NAVY,{w:700});

// citation
const cite=['Yong Wang, Zhaofa Wang, Bin Zhao, Liang Xu. Enhancement of azimuth focus performance in high resolution ISAR imaging based',
 'on the compensation for sensors platform vibration. IEEE Sensors Journal. 2016, 16 (16): 6333~6345.'];
T(cite[0],38,754,16,'#111111',{a:'left',w:700,st:'italic'});
T(cite[1],38,774,16,'#111111',{a:'left',w:700,st:'italic'});

// watermark
T('雷达学报',992,762,26,'rgba(130,130,130,.9)',{f:SANS,w:300});

const traces=[];
wideRuns.forEach(y=>traces.push({x:samples,y,type:'scatter',mode:'lines',line:{color:'#3232c4',width:1},hoverinfo:'skip'}));
boldRuns.forEach(y=>traces.push({x:samples,y,type:'scatter',mode:'lines',line:{color:'#2020d4',width:1.5},hoverinfo:'skip'}));
coreRuns.forEach(y=>traces.push({x:samples,y,type:'scatter',mode:'lines',line:{color:'#1010ea',width:1.6},hoverinfo:'skip'}));
traces.push({x:samples,y:truth,type:'scatter',mode:'lines',line:{color:'rgba(190,0,70,.5)',width:1},hoverinfo:'skip'});

const axisCommon={showgrid:false,zeroline:false,showline:true,linecolor:'#333333',linewidth:1.5,mirror:'ticks',
 ticks:'inside',ticklen:3,tickcolor:'#333333',tickfont:{family:SERIF,size:13,color:'#222222',weight:700}};
const xTicks=[10,20,30,40,50,60], yTicks=[-5,0,5], yTickText=['-5','0','5'];
const layout={width:W,height:H,margin:{l:0,r:0,t:0,b:0},paper_bgcolor:'rgba(0,0,0,0)',plot_bgcolor:'rgba(0,0,0,0)',showlegend:false,
 xaxis:Object.assign({},axisCommon,{domain:[fx(70),fx(587)],range:[1,64],tickvals:xTicks}),
 yaxis:Object.assign({},axisCommon,{domain:[fy(362),fy(168)],range:[-9.5,9.5],tickvals:yTicks,ticktext:yTickText}),
 shapes:shp,annotations:ann};
Plotly.newPlot('chart',traces,layout,{staticPlot:true,displayModeBar:false}).then(()=>{
 document.querySelectorAll('#chart .annotation-text').forEach(t=>{
  const s=t.textContent;
  let sp=null;
  if(s.startsWith('Yong')) sp='1.02px';
  if(s.startsWith('on the')) sp='0.85px';
  if(sp){
   const x0=t.getBBox().x;
   t.style.letterSpacing=sp;
   t.setAttribute('transform','translate('+(x0-t.getBBox().x)+',0)');
  }
 });
});
</script>
</body></html>
